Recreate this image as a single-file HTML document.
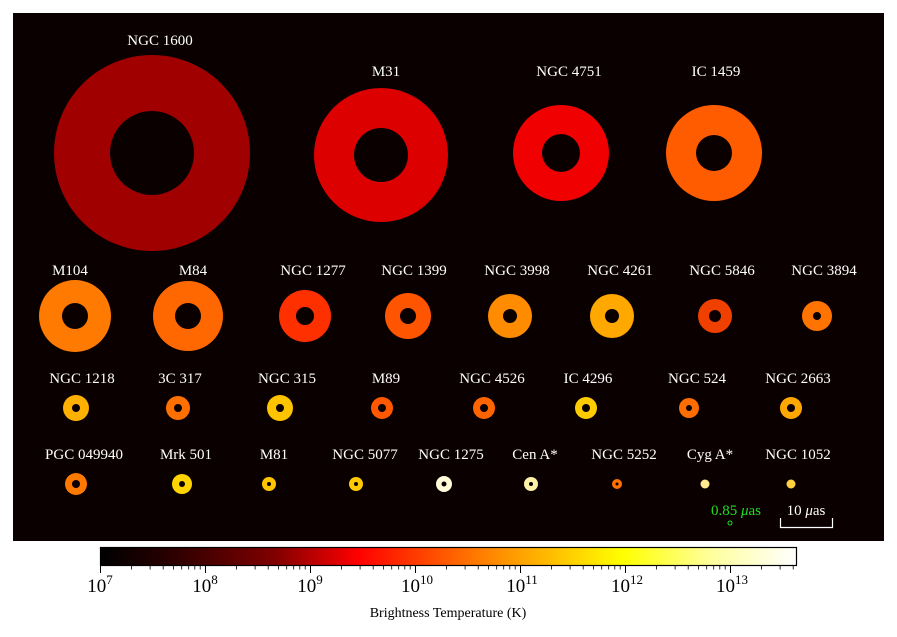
<!DOCTYPE html>
<html><head><style>
html,body{margin:0;padding:0;background:#fff;width:897px;height:637px;overflow:hidden}
svg{display:block}
text{font-family:"Liberation Serif",serif}
</style></head><body>
<svg width="897" height="637" viewBox="0 0 897 637" xmlns="http://www.w3.org/2000/svg">
<defs>
<linearGradient id="hot" x1="0" x2="1" y1="0" y2="0">
<stop offset="0" stop-color="#000000"/>
<stop offset="0.1" stop-color="#2a0000"/>
<stop offset="0.25" stop-color="#800000"/>
<stop offset="0.37" stop-color="#ff0000"/>
<stop offset="0.55" stop-color="#ff8000"/>
<stop offset="0.75" stop-color="#ffff00"/>
<stop offset="0.88" stop-color="#ffffa0"/>
<stop offset="1" stop-color="#ffffff"/>
</linearGradient>
</defs>
<rect x="13" y="13" width="871" height="528" fill="#0a0000"/>
<g>
<circle cx="152" cy="153" r="98" fill="#a00000"/><circle cx="152" cy="153" r="42" fill="#0a0000"/>
<circle cx="381" cy="155" r="67" fill="#dc0000"/><circle cx="381" cy="155" r="27" fill="#0a0000"/>
<circle cx="561" cy="153" r="48" fill="#f00000"/><circle cx="561" cy="153" r="19" fill="#0a0000"/>
<circle cx="714" cy="153" r="48" fill="#ff5c00"/><circle cx="714" cy="153" r="18" fill="#0a0000"/>
<circle cx="75" cy="316" r="36" fill="#ff7a00"/><circle cx="75" cy="316" r="13" fill="#0a0000"/>
<circle cx="188" cy="316" r="35" fill="#ff6800"/><circle cx="188" cy="316" r="13" fill="#0a0000"/>
<circle cx="305" cy="316" r="26" fill="#ff3000"/><circle cx="305" cy="316" r="9" fill="#0a0000"/>
<circle cx="408" cy="316" r="23" fill="#ff5400"/><circle cx="408" cy="316" r="8" fill="#0a0000"/>
<circle cx="510" cy="316" r="22" fill="#ff8c00"/><circle cx="510" cy="316" r="7" fill="#0a0000"/>
<circle cx="612" cy="316" r="22" fill="#ffa800"/><circle cx="612" cy="316" r="7" fill="#0a0000"/>
<circle cx="715" cy="316" r="17" fill="#f04000"/><circle cx="715" cy="316" r="6" fill="#0a0000"/>
<circle cx="817" cy="316" r="15" fill="#ff7400"/><circle cx="817" cy="316" r="4" fill="#0a0000"/>
<circle cx="76" cy="408" r="13" fill="#ffb000"/><circle cx="76" cy="408" r="4" fill="#0a0000"/>
<circle cx="178" cy="408" r="12" fill="#ff7000"/><circle cx="178" cy="408" r="4" fill="#0a0000"/>
<circle cx="280" cy="408" r="13" fill="#ffc400"/><circle cx="280" cy="408" r="4" fill="#0a0000"/>
<circle cx="382" cy="408" r="11" fill="#ff5800"/><circle cx="382" cy="408" r="4" fill="#0a0000"/>
<circle cx="484" cy="408" r="11" fill="#ff6400"/><circle cx="484" cy="408" r="4" fill="#0a0000"/>
<circle cx="586" cy="408" r="11" fill="#ffcc00"/><circle cx="586" cy="408" r="4" fill="#0a0000"/>
<circle cx="689" cy="408" r="10" fill="#ff6c00"/><circle cx="689" cy="408" r="3" fill="#0a0000"/>
<circle cx="791" cy="408" r="11" fill="#ffa800"/><circle cx="791" cy="408" r="4" fill="#0a0000"/>
<circle cx="76" cy="484" r="11" fill="#ff7800"/><circle cx="76" cy="484" r="4" fill="#0a0000"/>
<circle cx="182" cy="484" r="10" fill="#ffd400"/><circle cx="182" cy="484" r="3" fill="#0a0000"/>
<circle cx="269" cy="484" r="7" fill="#ffc400"/><circle cx="269" cy="484" r="2" fill="#0a0000"/>
<circle cx="356" cy="484" r="7" fill="#ffc800"/><circle cx="356" cy="484" r="2" fill="#0a0000"/>
<circle cx="444" cy="484" r="8" fill="#fffad8"/><circle cx="444" cy="484" r="2.5" fill="#0a0000"/>
<circle cx="531" cy="484" r="7" fill="#fff0a8"/><circle cx="531" cy="484" r="2" fill="#0a0000"/>
<circle cx="617" cy="484" r="5" fill="#ff7000"/><circle cx="617" cy="484" r="1.5" fill="#0a0000"/>
<circle cx="705" cy="484" r="4.5" fill="#ffe890"/>
<circle cx="791" cy="484" r="4.5" fill="#ffd040"/>
</g>
<g fill="#fff" font-size="15" text-anchor="middle">
<text x="160" y="45">NGC 1600</text>
<text x="386" y="76">M31</text>
<text x="569" y="76">NGC 4751</text>
<text x="716" y="76">IC 1459</text>
<text x="70" y="275">M104</text>
<text x="193" y="275">M84</text>
<text x="313" y="275">NGC 1277</text>
<text x="414" y="275">NGC 1399</text>
<text x="517" y="275">NGC 3998</text>
<text x="620" y="275">NGC 4261</text>
<text x="722" y="275">NGC 5846</text>
<text x="824" y="275">NGC 3894</text>
<text x="82" y="383">NGC 1218</text>
<text x="180" y="383">3C 317</text>
<text x="287" y="383">NGC 315</text>
<text x="386" y="383">M89</text>
<text x="492" y="383">NGC 4526</text>
<text x="588" y="383">IC 4296</text>
<text x="697" y="383">NGC 524</text>
<text x="798" y="383">NGC 2663</text>
<text x="84" y="459">PGC 049940</text>
<text x="186" y="459">Mrk 501</text>
<text x="274" y="459">M81</text>
<text x="365" y="459">NGC 5077</text>
<text x="451" y="459">NGC 1275</text>
<text x="535" y="459">Cen A*</text>
<text x="624" y="459">NGC 5252</text>
<text x="710" y="459">Cyg A*</text>
<text x="798" y="459">NGC 1052</text>
</g>
<text x="736" y="515" fill="#22dd22" font-size="15" text-anchor="middle">0.85 <tspan font-style="italic">μ</tspan>as</text>
<circle cx="730" cy="523" r="2" fill="none" stroke="#22dd22" stroke-width="1"/>
<text x="806" y="515" fill="#fff" font-size="15" text-anchor="middle">10 <tspan font-style="italic">μ</tspan>as</text>
<path d="M780.5 518 V527.5 H832.5 V518" fill="none" stroke="#fff" stroke-width="1.2"/>
<rect x="100.5" y="547.5" width="696" height="18" fill="url(#hot)" stroke="#000" stroke-width="1.2"/>
<path stroke="#000" stroke-width="1" fill="none" d="M100.5 566v7M205.5 566v7M310.5 566v7M415.5 566v7M520.5 566v7M625.5 566v7M730.5 566v7"/>
<path stroke="#000" stroke-width="0.8" fill="none" d="
M131.6 566v3.5M150.1 566v3.5M163.2 566v3.5M173.4 566v3.5M181.7 566v3.5M188.7 566v3.5M194.8 566v3.5M200.2 566v3.5
M236.6 566v3.5M255.1 566v3.5M268.2 566v3.5M278.4 566v3.5M286.7 566v3.5M293.7 566v3.5M299.8 566v3.5M305.2 566v3.5
M341.6 566v3.5M360.1 566v3.5M373.2 566v3.5M383.4 566v3.5M391.7 566v3.5M398.7 566v3.5M404.8 566v3.5M410.2 566v3.5
M446.6 566v3.5M465.1 566v3.5M478.2 566v3.5M488.4 566v3.5M496.7 566v3.5M503.7 566v3.5M509.8 566v3.5M515.2 566v3.5
M551.6 566v3.5M570.1 566v3.5M583.2 566v3.5M593.4 566v3.5M601.7 566v3.5M608.7 566v3.5M614.8 566v3.5M620.2 566v3.5
M656.6 566v3.5M675.1 566v3.5M688.2 566v3.5M698.4 566v3.5M706.7 566v3.5M713.7 566v3.5M719.8 566v3.5M725.2 566v3.5
M761.6 566v3.5M780.1 566v3.5M793.2 566v3.5"/>
<g font-size="19" text-anchor="middle" fill="#000">
<text x="100" y="592">10<tspan font-size="13" dy="-8">7</tspan></text>
<text x="205" y="592">10<tspan font-size="13" dy="-8">8</tspan></text>
<text x="310" y="592">10<tspan font-size="13" dy="-8">9</tspan></text>
<text x="417" y="592">10<tspan font-size="13" dy="-8">10</tspan></text>
<text x="522" y="592">10<tspan font-size="13" dy="-8">11</tspan></text>
<text x="627" y="592">10<tspan font-size="13" dy="-8">12</tspan></text>
<text x="732" y="592">10<tspan font-size="13" dy="-8">13</tspan></text>
</g>
<text x="448" y="617" font-size="14" text-anchor="middle">Brightness Temperature (K)</text>
</svg>
</body></html>
